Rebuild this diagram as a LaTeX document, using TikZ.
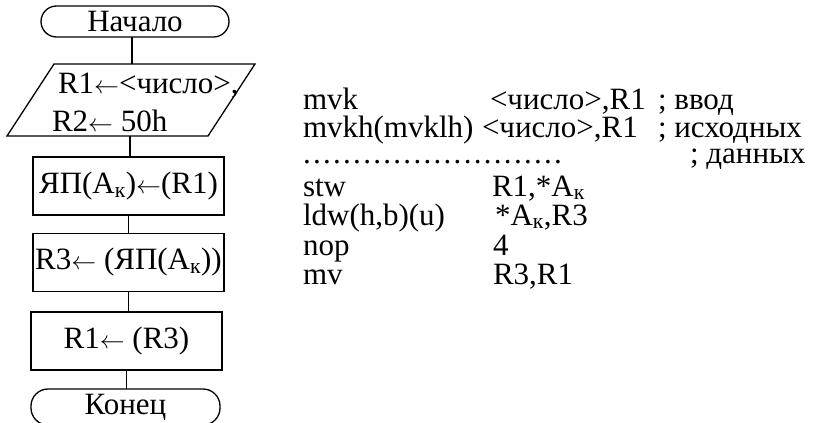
\documentclass[tikz,border=0pt]{standalone}
\usepackage{fontspec}
\setmainfont{Liberation Serif}
\newcommand{\larr}{\ensuremath{\leftarrow}}
\newcommand{\dotrow}{\foreach \i in {1,...,26}{.\kern2.3pt}}
\begin{document}
\begin{tikzpicture}[x=1pt,y=-1pt,
  every node/.style={font=\fontsize{31}{36}\selectfont, inner sep=0pt, outer sep=0pt},
  flow/.style={draw, line width=1.3pt},
  term/.style={flow, rounded corners=15.5pt, minimum width=188pt, minimum height=31pt},
  proc/.style={flow, minimum width=191pt, minimum height=58pt},
  code/.style={anchor=base west},
  conn/.style={line width=1.3pt}]
\useasboundingbox (0,0) rectangle (817,423);
\clip (0,0) rectangle (817,423);
% flowchart
\node[term] (start) at (135,21.5) {Начало};
\coordinate (iotop) at (132,64);
\coordinate (iobot) at (130,136);
\draw[flow, line join=miter] (7,136) -- (54,64) -- (255,64) -- (208,136) -- cycle;
\node[code] (io1) at (58,93) {R1\larr<число>,};
\node[code] (io2) at (52,131) {R2\larr{} 50h};
\node[proc] (b1) at (128.5,186) {ЯП(A\textsubscript{к})\larr(R1)};
\node[proc] (b2) at (128.5,262.5) {R3\larr{} (ЯП(A\textsubscript{к}))};
\node[proc] (b3) at (126.5,341) {R1\larr{} (R3)};
\node[term, minimum height=36pt, rounded corners=17pt, minimum width=189pt] (end) at (125.5,407) {Конец};
\draw[conn] (start.south -| iotop) -- (iotop);
\draw[conn] (iobot) -- (iobot |- b1.north);
\draw[conn] (b1.south) -- (b1.south |- b2.north);
\draw[conn] (b2.south) -- (b2.south |- b3.north);
\draw[conn] (b3.south) -- (b3.south |- end.north);
% code listing
\node[code] (c1a) at (303,109) {mvk};
\node[code] (c1b) at (490,109) {<число>,R1};
\node[code] (c1c) at (658,109) {; ввод};
\node[code] (c2a) at (303,137) {mvkh(mvklh)};
\node[code] (c2b) at (482,137) {<число>,R1};
\node[code] (c2c) at (658,137) {; исходных};
\node[code] (c3a) at (303,163) {\dotrow};
\node[code] (c3c) at (690,163) {; данных};
\node[code] (c4a) at (303,196) {stw};
\node[code] (c4b) at (492,196) {R1,*A\textsubscript{к}};
\node[code] (c5a) at (303,225) {ldw(h,b)(u)};
\node[code] (c5b) at (495,225) {*A\textsubscript{к},R3};
\node[code] (c6a) at (303,255) {nop};
\node[code] (c6b) at (493,255) {4};
\node[code] (c7a) at (303,284) {mv};
\node[code] (c7b) at (493,284) {R3,R1};
\end{tikzpicture}
\end{document}
